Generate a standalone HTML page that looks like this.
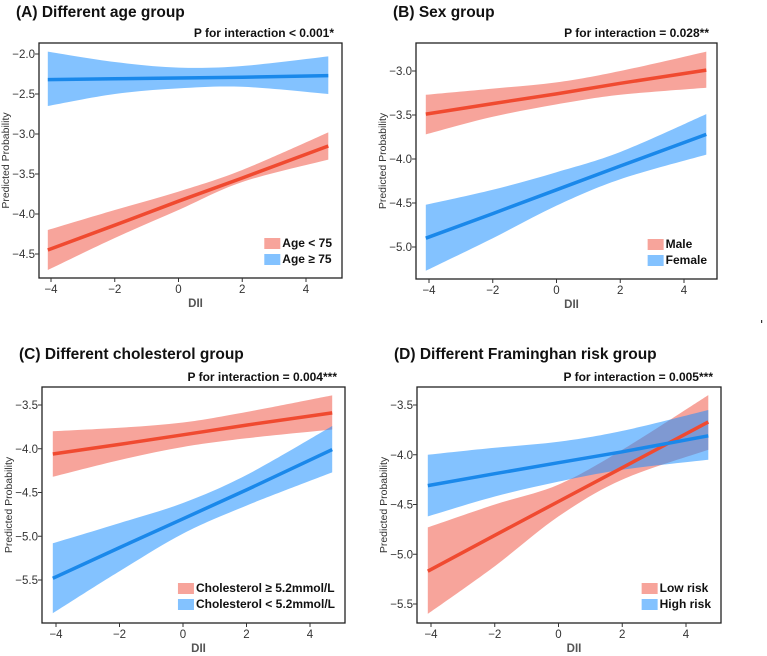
<!DOCTYPE html>
<html><head><meta charset="utf-8"><style>
html,body{margin:0;padding:0;background:#fff;}
svg{display:block;font-family:"Liberation Sans",Arial,sans-serif;}
</style></head><body>
<svg id="fig" width="767" height="656" viewBox="0 0 767 656"></svg>
<script>
const xs = [-4.1, -2, 0, 2, 4.7];
const xTicks = [-4, -2, 0, 2, 4];
// Panel A
const aRedMean = [-4.45, -4.14, -3.84, -3.55, -3.15];
const aRedLo = [-4.70, -4.30, -3.95, -3.60, -3.32];
const aRedHi = [-4.20, -3.95, -3.72, -3.45, -2.98];
const aBlueMean = [-2.32, -2.31, -2.30, -2.29, -2.27];
const aBlueLo = [-2.65, -2.50, -2.43, -2.41, -2.50];
const aBlueHi = [-1.97, -2.10, -2.17, -2.15, -2.03];
const aYTicks = [-2.0, -2.5, -3.0, -3.5, -4.0, -4.5];
// Panel B
const bRedMean = [-3.49, -3.37, -3.26, -3.14, -2.99];
const bRedLo = [-3.72, -3.52, -3.38, -3.27, -3.19];
const bRedHi = [-3.27, -3.20, -3.13, -3.00, -2.78];
const bBlueMean = [-4.90, -4.62, -4.35, -4.08, -3.72];
const bBlueLo = [-5.27, -4.90, -4.53, -4.23, -3.95];
const bBlueHi = [-4.52, -4.35, -4.15, -3.92, -3.49];
const bYTicks = [-3.0, -3.5, -4.0, -4.5, -5.0];
// Panel C
const cRedMean = [-4.06, -3.95, -3.84, -3.73, -3.59];
const cRedLo = [-4.32, -4.13, -3.98, -3.88, -3.78];
const cRedHi = [-3.80, -3.76, -3.70, -3.58, -3.39];
const cBlueMean = [-5.48, -5.13, -4.80, -4.47, -4.01];
const cBlueLo = [-5.88, -5.40, -4.97, -4.65, -4.27];
const cBlueHi = [-5.08, -4.85, -4.62, -4.30, -3.74];
const cYTicks = [-3.5, -4.0, -4.5, -5.0, -5.5];
// Panel D
const dRedMean = [-5.17, -4.81, -4.47, -4.13, -3.67];
const dRedLo = [-5.60, -5.12, -4.62, -4.25, -3.95];
const dRedHi = [-4.73, -4.50, -4.30, -3.95, -3.40];
const dBlueMean = [-4.31, -4.19, -4.08, -3.97, -3.81];
const dBlueLo = [-4.62, -4.42, -4.27, -4.15, -4.05];
const dBlueHi = [-4.00, -3.93, -3.87, -3.76, -3.55];
const dYTicks = [-3.5, -4.0, -4.5, -5.0, -5.5];

const NS = "http://www.w3.org/2000/svg";
const svg = document.getElementById('fig');
function mk(tag, attrs, parent){const e=document.createElementNS(NS,tag);for(const k in attrs)e.setAttribute(k,attrs[k]);(parent||svg).appendChild(e);return e;}
function smooth(pts, start){
  let d=start?('M'+pts[0][0].toFixed(1)+','+pts[0][1].toFixed(1)):(' L'+pts[0][0].toFixed(1)+','+pts[0][1].toFixed(1));
  for(let i=0;i<pts.length-1;i++){
    const p0=pts[Math.max(0,i-1)],p1=pts[i],p2=pts[i+1],p3=pts[Math.min(pts.length-1,i+2)];
    const c1=[p1[0]+(p2[0]-p0[0])/6,p1[1]+(p2[1]-p0[1])/6];
    const c2=[p2[0]-(p3[0]-p1[0])/6,p2[1]-(p3[1]-p1[1])/6];
    d+=' C'+c1[0].toFixed(1)+','+c1[1].toFixed(1)+' '+c2[0].toFixed(1)+','+c2[1].toFixed(1)+' '+p2[0].toFixed(1)+','+p2[1].toFixed(1);
  }
  return d;
}

const panels = [
 {id:'a', title:'(A) Different age group', p:'P for interaction < 0.001*', box:[39,43,342,278], xp:[51,306], yv:[-2.0,-4.5], yp:[54,254], yt:aYTicks, ty:17, pyy:37,
  series:[{c:'red',m:aRedMean,lo:aRedLo,hi:aRedHi,l:'Age < 75'},{c:'blue',m:aBlueMean,lo:aBlueLo,hi:aBlueHi,l:'Age \u2265 75'}]},
 {id:'b', title:'(B) Sex group', p:'P for interaction = 0.028**', box:[416,43,717,279], xp:[429,684], yv:[-3.0,-5.0], yp:[71,247], yt:bYTicks, ty:17, pyy:37,
  series:[{c:'red',m:bRedMean,lo:bRedLo,hi:bRedHi,l:'Male'},{c:'blue',m:bBlueMean,lo:bBlueLo,hi:bBlueHi,l:'Female'}]},
 {id:'c', title:'(C) Different cholesterol group', p:'P for interaction = 0.004***', box:[42,387,345,623], xp:[56,310], yv:[-3.5,-5.5], yp:[405,580], yt:cYTicks, ty:359, pyy:381,
  series:[{c:'red',m:cRedMean,lo:cRedLo,hi:cRedHi,l:'Cholesterol \u2265 5.2mmol/L'},{c:'blue',m:cBlueMean,lo:cBlueLo,hi:cBlueHi,l:'Cholesterol < 5.2mmol/L'}]},
 {id:'d', title:'(D) Different Framinghan risk group', p:'P for interaction = 0.005***', box:[417,387,721,623], xp:[431,686], yv:[-3.5,-5.5], yp:[405,604], yt:dYTicks, ty:359, pyy:381,
  series:[{c:'red',m:dRedMean,lo:dRedLo,hi:dRedHi,l:'Low risk'},{c:'blue',m:dBlueMean,lo:dBlueLo,hi:dBlueHi,l:'High risk'}]},
];
const BAND={red:'#f05a48',blue:'#1e90ff'}, LINE={red:'#f04a30',blue:'#1a88ea'};

panels.forEach(P=>{
  const g=mk('g',{});
  
  
  const [x0,y0,x1,y1]=P.box;
  const sx=v=>P.xp[0]+(v+4)*(P.xp[1]-P.xp[0])/8;
  const sy=v=>P.yp[0]+(v-P.yv[0])*(P.yp[1]-P.yp[0])/(P.yv[1]-P.yv[0]);
  const t=mk('text',{x:x0-23,y:P.ty,'font-size':'15.5','font-weight':'bold',fill:'#111'},g);t.textContent=P.title;
  
  const pt=mk('text',{x:x1-8,y:P.pyy,'font-size':'12','font-weight':'bold','text-anchor':'end',fill:'#111'},g);pt.textContent=P.p;
  
  const clip='clip'+P.id;
  const cp=mk('clipPath',{id:clip},g);mk('rect',{x:x0,y:y0,width:x1-x0,height:y1-y0},cp);
  const plot=mk('g',{'clip-path':'url(#'+clip+')'},g);
  P.series.forEach(S=>{
    const top=xs.map((x,i)=>[sx(x),sy(S.hi[i])]);
    const bot=xs.map((x,i)=>[sx(x),sy(S.lo[i])]).reverse();
    const d=smooth(top,true)+smooth(bot,false)+' Z';
    const b=mk('path',{d:d,fill:BAND[S.c],'fill-opacity':'0.55',stroke:'none'},plot);
    
  });
  P.series.forEach(S=>{
    const pts=xs.map((x,i)=>sx(x).toFixed(1)+','+sy(S.m[i]).toFixed(1)).join(' ');
    const l=mk('polyline',{points:pts,fill:'none',stroke:LINE[S.c],'stroke-width':'3.5'},plot);
    
  });
  const fr=mk('rect',{x:x0,y:y0,width:x1-x0,height:y1-y0,fill:'none',stroke:'#222','stroke-width':'1.3'},g);
  
  P.yt.forEach(v=>{
    const y=sy(v);
    mk('line',{x1:x0-4,x2:x0,y1:y,y2:y,stroke:'#333'},g);
    const tl=mk('text',{x:x0-4,y:y+4,'font-size':'11.5','text-anchor':'end',fill:'#333'},g);tl.textContent=(v.toFixed(1)).replace('-','\u2212');
    
  });
  xTicks.forEach(v=>{
    const x=sx(v);
    mk('line',{x1:x,x2:x,y1:y1,y2:y1+4,stroke:'#333'},g);
    const tl=mk('text',{x:x,y:y1+15,'font-size':'11.5','text-anchor':'middle',fill:'#333'},g);tl.textContent=String(v).replace('-','\u2212');
    
  });
  const xa=mk('text',{x:(x0+x1)/2+5,y:y1+29,'font-size':'11.5','font-weight':'bold','text-anchor':'middle',fill:'#555'},g);xa.textContent='DII';
  
  const ycx=x0-30, ycy=(y0+y1)/2;
  const ya=mk('text',{x:ycx,y:ycy,'font-size':'10.5','text-anchor':'middle',fill:'#333',transform:'rotate(-90 '+ycx+' '+ycy+')'},g);ya.textContent='Predicted Probability';
  
  const lg=mk('g',{},g);
  
  const tmp=[];
  P.series.forEach((S,i)=>{
    const yy=y1-40+i*16;
    const tx=mk('text',{x:0,y:yy+9,'font-size':'12','font-weight':'bold',fill:'#111'},lg);tx.textContent=S.l;
    
    tmp.push([tx,yy,S.c]);
  });
  let maxw=0;tmp.forEach(([tx])=>{maxw=Math.max(maxw,tx.getComputedTextLength());});
  const tx0=x1-10-maxw;
  tmp.forEach(([tx,yy,c])=>{
    tx.setAttribute('x',tx0);
    const sw=mk('rect',{x:tx0-18,y:yy,width:16,height:11,fill:BAND[c],'fill-opacity':'0.55'},lg);
    
  });
});
mk('rect',{x:761,y:320,width:1.2,height:3,fill:'#333'});
</script>
</body></html>
